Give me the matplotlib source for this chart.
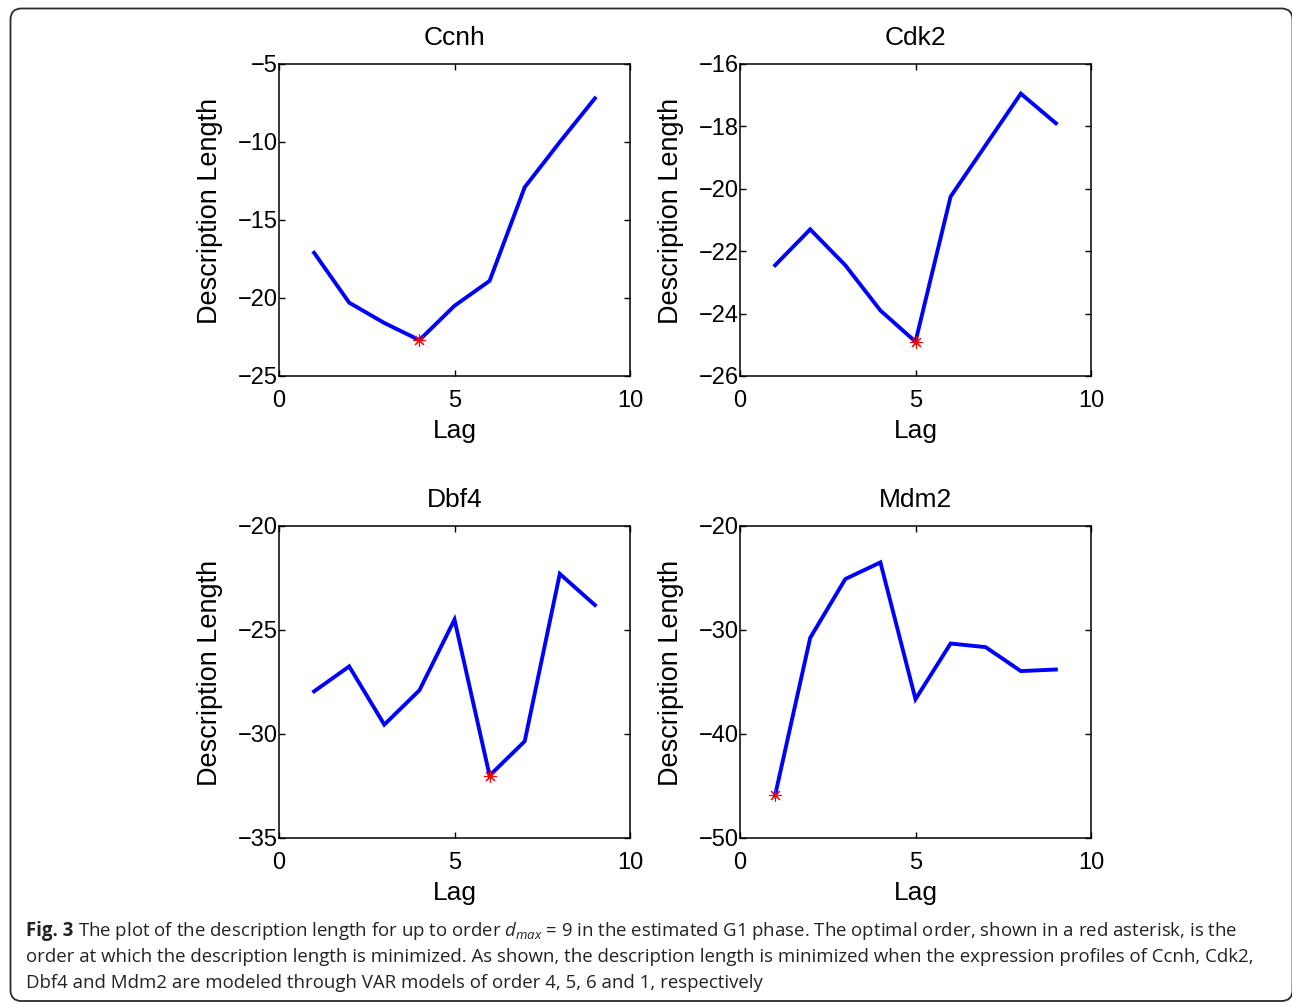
import matplotlib
matplotlib.use('Agg')
import matplotlib.pyplot as plt
from matplotlib.patches import FancyBboxPatch
import numpy as np

plt.rcParams['font.family'] = 'Liberation Sans'
plt.rcParams['mathtext.fontset'] = 'custom'
plt.rcParams['mathtext.rm'] = 'Open Sans'
plt.rcParams['mathtext.it'] = 'Open Sans:italic'

# description length per lag (orders 1..9)
lags = [1, 2, 3, 4, 5, 6, 7, 8, 9]
genes = ['Ccnh', 'Cdk2', 'Dbf4', 'Mdm2']
ccnh = [-17.1, -20.3, -21.6, -22.7, -20.5, -18.9, -12.9, -10.0, -7.2]
cdk2 = [-22.45, -21.3, -22.45, -23.9, -24.9, -20.25, -18.6, -16.95, -17.9]
dbf4 = [-27.95, -26.75, -29.55, -27.9, -24.5, -32.0, -30.35, -22.3, -23.8]
mdm2 = [-45.9, -30.75, -25.1, -23.5, -36.65, -31.3, -31.65, -33.95, -33.8]
series = [ccnh, cdk2, dbf4, mdm2]
ylims = [(-25, -5), (-26, -16), (-35, -20), (-50, -20)]
yticks = [np.arange(-25, -4, 5), np.arange(-26, -15, 2),
          np.arange(-35, -19, 5), np.arange(-50, -19, 10)]

W, H = 1292, 1002
fig = plt.figure(figsize=(W / 100, H / 100), dpi=100)

# rounded frame around the figure panel
frame = FancyBboxPatch((10.5, 1), 1282, 992.5, boxstyle='round,pad=0,rounding_size=11',
                       transform=None, fill=False, edgecolor='#2b2b2b', linewidth=1.3)
fig.patches.append(frame)

lefts = [279, 740, 279, 740]
tops = [64, 64, 526, 526]
aw, ah = 351, 312

for i, name in enumerate(genes):
    ax = fig.add_axes([lefts[i] / W, 1 - (tops[i] + ah) / H, aw / W, ah / H])
    y = series[i]
    ax.plot(lags, y, color='blue', linewidth=2.8, solid_joinstyle='miter')
    k = int(np.argmin(y))
    ax.plot(lags[k], y[k], linestyle='none', marker=(8, 2, 0), markersize=9,
            markeredgecolor='red', markeredgewidth=0.8, color='red')
    ax.set_xlim(0, 10)
    ax.set_ylim(*ylims[i])
    ax.set_xticks([0, 5, 10])
    ax.set_yticks(yticks[i])
    ax.tick_params(direction='in', length=4, width=1, top=True, right=True,
                   labelsize=17, colors='black')
    ax.tick_params(axis='y', pad=1)
    ax.tick_params(axis='x', pad=10)
    for s in ax.spines.values():
        s.set_linewidth(1.1)
    ax.set_title(name, fontsize=19, pad=14)
    ax.set_xlabel('Lag', fontsize=19, labelpad=5)
    ax.set_ylabel('Description Length', fontsize=19.5)
    ax.yaxis.set_label_coords(-0.16, 0.53)

# caption
cap_size = 13.45
x0 = 26 / W
base = [936, 962, 988]
renderer = fig.canvas.get_renderer()
t = fig.text(x0, 1 - base[0] / H, 'Fig. 3', fontsize=cap_size, family='Open Sans',
             weight='bold', va='baseline', color='#222222')
bb = t.get_window_extent(renderer)
fig.text(bb.x1 / W + 5 / W, 1 - base[0] / H,
         'The plot of the description length for up to order $d_{max}$ = 9 in the estimated G1 phase. '
         'The optimal order, shown in a red asterisk, is the',
         fontsize=cap_size, family='Open Sans', va='baseline', color='#222222')
fig.text(x0, 1 - base[1] / H,
         'order at which the description length is minimized. As shown, the description length is '
         'minimized when the expression profiles of Ccnh, Cdk2,',
         fontsize=cap_size, family='Open Sans', va='baseline', color='#222222')
fig.text(x0, 1 - base[2] / H,
         'Dbf4 and Mdm2 are modeled through VAR models of order 4, 5, 6 and 1, respectively',
         fontsize=cap_size, family='Open Sans', va='baseline', color='#222222')

fig.savefig('out.png', dpi=100)
